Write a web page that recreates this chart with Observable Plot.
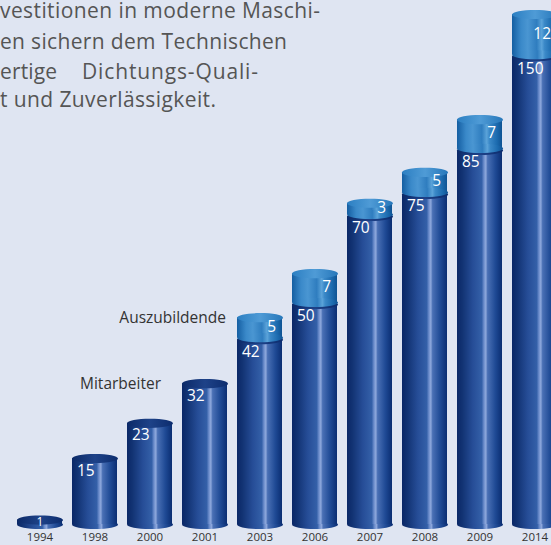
<!DOCTYPE html>
<html><head><meta charset="utf-8">
<script src="https://cdn.jsdelivr.net/npm/d3@7"></script>
<script src="https://cdn.jsdelivr.net/npm/@observablehq/plot@0.6"></script>
<style>
html,body{margin:0;padding:0;background:#dfe5f2;}
#chart{position:relative;width:551px;height:545px;overflow:hidden;}
svg{display:block;}
</style></head><body><div id="chart"></div>
<script>
// ---- data ----
const years = ["1994","1998","2000","2001","2003","2006","2007","2008","2009","2014"];
const mitarbeiter = [1, 15, 23, 32, 42, 50, 70, 75, 85, 150];
const auszubildende = [0, 0, 0, 0, 5, 7, 3, 5, 7, 12];
const seriesLabels = ["Mitarbeiter", "Auszubildende"];
const introLines = [
  ["vestitionen in moderne Maschi-"],
  ["en sichern dem Technischen"],
  ["ertige", "Dichtungs-Quali-"],
  ["t und Zuverlässigkeit."]
];

// ---- derived table ----
const rows = years.map((year, i) => ({year, emp: mitarbeiter[i], app: auszubildende[i], total: mitarbeiter[i] + auszubildende[i]}));
const capRows = rows.filter(d => d.app > 0);
const tallRows = rows.filter(d => d.emp >= 10);
const flatRows = rows.filter(d => d.emp < 10);
const noteApp = [{year: "2003", v: rows[4].total, label: seriesLabels[1]}];
const noteEmp = [{year: "2001", v: rows[3].emp, label: seriesLabels[0]}];

// the source drawing compresses the top of the value axis (broken scale above ~92)
const squeeze = d3.scaleLinear([0, 92, 150, 162], [0, 92, 106.3, 115.9]);

// ellipse symbol (flat ellipse with rx = r)
const ellipse = {draw(ctx, size) {
  const rx = Math.sqrt(size / Math.PI), ry = rx * 0.2, k = 0.5523;
  ctx.moveTo(-rx, 0);
  ctx.bezierCurveTo(-rx, -ry * k, -rx * k, -ry, 0, -ry);
  ctx.bezierCurveTo(rx * k, -ry, rx, -ry * k, rx, 0);
  ctx.bezierCurveTo(rx, ry * k, rx * k, ry, 0, ry);
  ctx.bezierCurveTo(-rx * k, ry, -rx, ry * k, -rx, 0);
  ctx.closePath();
}};
const R = 23;

const chart = Plot.plot({
  width: 551,
  height: 545,
  marginTop: 14, marginRight: 0, marginLeft: 0, marginBottom: 21,
  style: {background: "transparent", fontFamily: "'Open Sans', sans-serif", fontSize: "11.5px", color: "#333"},
  x: {type: "band", domain: years, range: [8, 567], paddingInner: 0.177, paddingOuter: 0.0885, tickSize: 0, tickPadding: 8.5, label: null},
  y: {type: "linear", transform: squeeze, domain: [0, 115.9], range: [524, 14], axis: null},
  marks: [
    // employees cylinder
    Plot.dot(rows, {x: "year", y: 0, r: R, symbol: ellipse, fill: "url(#gBody)"}),
    Plot.barY(rows, {x: "year", y1: 0, y2: "emp", fill: "url(#gBody)"}),
    Plot.dot(rows, {x: "year", y: "emp", r: R, symbol: ellipse, fill: "url(#gBodyTop)"}),
    // apprentices cap
    Plot.barY(capRows, {x: "year", y1: "emp", y2: "total", fill: "url(#gCap)", insetBottom: 2}),
    Plot.dot(capRows, {x: "year", y: "emp", r: R, symbol: ellipse, fill: "url(#gCap)", dy: -2}),
    Plot.dot(capRows, {x: "year", y: "total", r: R, symbol: ellipse, fill: "url(#gCapTop)"}),
    // value labels
    Plot.text(tallRows, {x: "year", y: "emp", text: d => String(d.emp), textAnchor: "start", lineAnchor: "top", dx: -18, dy: 6, fill: "white", fontSize: 15.5}),
    Plot.text(flatRows, {x: "year", y: d => d.emp / 2, text: d => String(d.emp), lineAnchor: "middle", dy: 0, fill: "white", fontSize: 12}),
    Plot.text(capRows, {x: "year", y: d => d.emp + d.app / 2, text: d => String(d.app), textAnchor: "end", lineAnchor: "middle", dx: 16, dy: -2, fill: "white", fontSize: 15.5}),
    // series annotations
    Plot.text(noteApp, {x: "year", y: "v", text: "label", dx: -34, textAnchor: "end", lineAnchor: "middle", fill: "#333", fontSize: 15.5}),
    Plot.text(noteEmp, {x: "year", y: "v", text: "label", dx: -44, textAnchor: "end", lineAnchor: "middle", fill: "#333", fontSize: 15.5})
  ]
});

document.getElementById("chart").appendChild(chart);
const svg = d3.select(chart);

// gradients
const defs = svg.insert("defs", ":first-child");
function grad(id, stops) {
  const g = defs.append("linearGradient").attr("id", id).attr("x1", 0).attr("x2", 1).attr("y1", 0).attr("y2", 0);
  stops.forEach(([o, c]) => g.append("stop").attr("offset", o).attr("stop-color", c));
}
grad("gBody", [[0, "#0a2767"], [0.12, "#123373"], [0.35, "#264d97"], [0.55, "#3460a8"], [0.6, "#6f8fcd"], [0.64, "#8ea8dc"], [0.68, "#4a70b5"], [0.85, "#1f4a95"], [1, "#0a2d72"]]);
grad("gBodyTop", [[0, "#0c2a68"], [0.5, "#1e4288"], [1, "#0c2c6e"]]);
grad("gCap", [[0, "#145ea2"], [0.2, "#3a89c9"], [0.35, "#4a96d2"], [0.55, "#2f7dbf"], [0.66, "#5ba3d9"], [0.72, "#3b89c8"], [0.88, "#1d6cb0"], [1, "#0e5394"]]);
grad("gCapTop", [[0, "#2c7fc2"], [0.5, "#4f9bd6"], [1, "#2677ba"]]);

// intro paragraph (justified column, cut at the left edge as in the source layout)
const baselines = [18, 48.5, 78.5, 106.5];
const spans = [[[0, 320]], [[0, 287]], [[0, 57], [82, 176]], [[0, 216]]];
introLines.forEach((parts, i) => {
  parts.forEach((part, j) => {
    svg.append("text").attr("x", spans[i][j][0]).attr("y", baselines[i])
      .attr("text-anchor", "start")
      .attr("font-size", 21).attr("fill", "#555")
      .attr("font-family", "'Open Sans', sans-serif")
      .attr("textLength", spans[i][j][1]).attr("lengthAdjust", "spacing")
      .text(part);
  });
});
</script></body></html>
